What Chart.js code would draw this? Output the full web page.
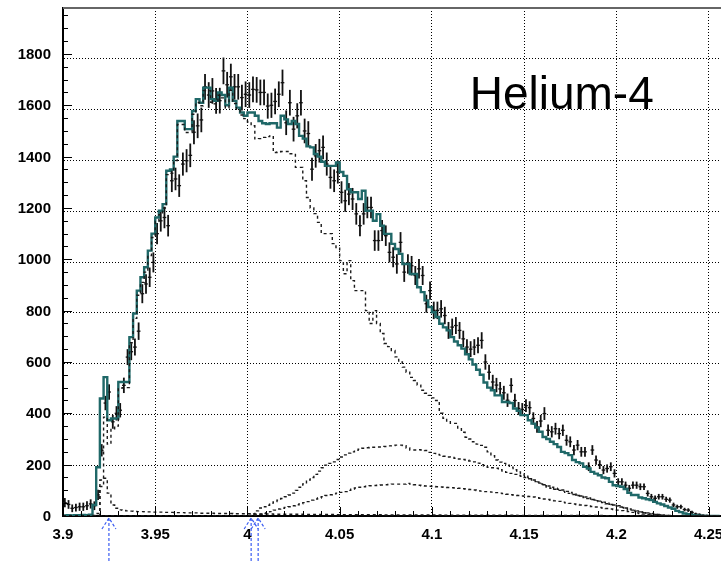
<!DOCTYPE html>
<html>
<head>
<meta charset="utf-8">
<script src="https://cdn.jsdelivr.net/npm/chart.js@4.4.1/dist/chart.umd.min.js"></script>
<style>
  html, body { margin: 0; padding: 0; background: #fff; }
  canvas { display: block; }
</style>
</head>
<body>
<canvas id="he4" width="721" height="563"></canvas>
<script>
// binning of all histograms
const BIN_LO = 3.9;
const BIN_W = 0.002;

// measured counts per bin and their errors
const dataCounts = [
  52, 45, 30, 33, 36, 36, 40, 47, 40, 82,
  256, 440, 483, 367, 400, 412, 509, 619, 640, 658,
  720, 866, 904, 930, 988, 1100, 1150, 1163, 1131, 1306,
  1313, 1287, 1371, 1384, 1405, 1495, 1520, 1543, 1672, 1640,
  1656, 1617, 1618, 1734, 1680, 1711, 1672, 1672, 1630, 1643,
  1640, 1662, 1660, 1650, 1650, 1597, 1600, 1615, 1643, 1688,
  1532, 1610, 1507, 1559, 1610, 1500, 1490, 1351, 1403, 1423,
  1436, 1371, 1319, 1306, 1340, 1261, 1228, 1254, 1235, 1177,
  1131, 1177, 1202, 1202, 1073, 1073, 1112, 1092, 1027, 1008,
  982, 1066, 950, 982, 975, 937, 963, 937, 827, 878,
  801, 801, 807, 781, 723, 736, 742, 723, 690, 658,
  650, 658, 665, 684, 600, 560, 522, 510, 495, 480,
  451, 509, 450, 419, 415, 430, 422, 380, 347, 370,
  399, 334, 328, 340, 321, 334, 295, 289, 257, 276,
  250, 250, 192, 257, 218, 200, 179, 185, 192, 166,
  133, 133, 120, 108, 120, 120, 114, 114, 88, 75,
  69, 75, 75, 65, 62, 43, 36, 36, 25, 23,
  14, 8, 6, 3, 2, 0, 0, 0
];
const dataErrors = [
  18, 17, 15, 15, 16, 16, 17, 18, 17, 20,
  24, 28, 30, 27, 28, 28, 30, 31, 33, 33,
  34, 37, 38, 38, 39, 41, 42, 42, 42, 44,
  44, 44, 45, 45, 46, 47, 48, 48, 50, 50,
  50, 50, 50, 52, 50, 51, 50, 50, 50, 50,
  50, 50, 50, 50, 50, 49, 49, 50, 50, 51,
  48, 50, 48, 49, 50, 48, 48, 45, 46, 46,
  46, 45, 44, 44, 45, 43, 43, 43, 43, 42,
  41, 42, 42, 42, 40, 40, 41, 40, 39, 39,
  38, 40, 38, 38, 38, 37, 38, 37, 35, 36,
  34, 34, 34, 34, 33, 33, 33, 33, 32, 31,
  31, 31, 31, 32, 30, 29, 28, 28, 27, 27,
  26, 28, 26, 25, 25, 25, 25, 24, 23, 24,
  25, 22, 22, 23, 22, 22, 21, 21, 20, 20,
  19, 19, 17, 19, 18, 17, 16, 16, 17, 16,
  14, 14, 14, 13, 14, 14, 13, 13, 12, 11,
  11, 11, 11, 10, 10, 9, 8, 8, 7, 7,
  6, 5, 4, 3, 3, 0, 0, 0
];

// simulated total
const mcSum = [
  3, 2, 3, 2, 3, 3, 4, 3, 5, 43,
  190, 458, 541, 373, 380, 380, 522, 522, 522, 697,
  789, 878, 930, 969, 1034, 1100, 1163, 1189, 1215, 1345,
  1350, 1400, 1539, 1539, 1507, 1507, 1578, 1624, 1610, 1669,
  1669, 1624, 1617, 1650, 1640, 1600, 1669, 1617, 1591, 1572,
  1559, 1572, 1572, 1559, 1539, 1530, 1527, 1530, 1530, 1513,
  1559, 1545, 1527, 1539, 1527, 1481, 1470, 1440, 1436, 1410,
  1400, 1380, 1364, 1364, 1364, 1377, 1340, 1325, 1273, 1261,
  1261, 1235, 1267, 1189, 1189, 1150, 1176, 1131, 1099, 1099,
  1060, 1040, 1021, 982, 982, 943, 943, 891, 872, 840,
  814, 794, 775, 749, 735, 723, 697, 680, 665, 652,
  630, 610, 590, 570, 550, 520, 500, 490, 470, 470,
  444, 444, 440, 419, 410, 393, 393, 373, 360, 345,
  328, 308, 300, 289, 280, 269, 250, 245, 237, 218,
  210, 205, 192, 185, 172, 165, 159, 150, 147, 133,
  120, 117, 114, 105, 90, 82, 82, 72, 69, 65,
  62, 55, 49, 45, 39, 33, 28, 20, 15, 10,
  7, 4, 2, 1, 0, 0, 0, 0
];

// simulated components
const mcNarrow = [
  0, 0, 0, 0, 0, 0, 0, 0, 0, 2,
  10, 115, 147, 89, 43, 30, 24, 22, 20, 19,
  18, 17, 17, 16, 16, 15, 15, 15, 14, 14,
  14, 13, 13, 13, 12, 12, 12, 12, 11, 11,
  11, 11, 10, 10, 10, 10, 10, 9, 9, 9,
  9, 9, 8, 8, 8, 8, 8, 8, 7, 7,
  7, 7, 7, 7, 7, 7, 6, 6, 6, 6,
  6, 6, 6, 6, 6, 5, 5, 5, 5, 5,
  5, 5, 5, 5, 5, 5, 5, 5, 4, 4,
  4, 4, 4, 4, 4, 4, 4, 4, 4, 4,
  4, 4, 4, 4, 3, 3, 3, 3, 3, 3,
  3, 3, 3, 3, 3, 3, 3, 3, 3, 3,
  3, 3, 3, 3, 2, 2, 2, 2, 2, 2,
  2, 2, 2, 2, 2, 2, 2, 2, 2, 2,
  2, 2, 2, 2, 2, 2, 2, 2, 1, 1,
  1, 1, 1, 1, 1, 1, 1, 1, 1, 1,
  1, 1, 1, 1, 1, 0, 0, 0, 0, 0,
  0, 0, 0, 0, 0, 0, 0, 0
];
const mcBulk = [
  0, 0, 0, 0, 0, 0, 0, 0, 0, 0,
  0, 140, 385, 280, 340, 350, 495, 500, 500, 675,
  770, 860, 910, 950, 1015, 1085, 1148, 1174, 1200, 1330,
  1335, 1385, 1525, 1525, 1494, 1494, 1565, 1611, 1598, 1657,
  1657, 1612, 1606, 1639, 1629, 1589, 1658, 1607, 1581, 1562,
  1548, 1535, 1520, 1469, 1470, 1475, 1478, 1481, 1416, 1418,
  1420, 1420, 1411, 1411, 1358, 1358, 1306, 1241, 1200, 1178,
  1144, 1100, 1100, 1100, 1061, 1046, 995, 944, 995, 917,
  878, 878, 878, 800, 750, 800, 750, 711, 672, 660,
  645, 620, 600, 580, 560, 540, 528, 510, 490, 478,
  470, 460, 450, 400, 381, 370, 361, 361, 340, 326,
  307, 300, 289, 280, 275, 268, 250, 235, 218, 210,
  205, 198, 190, 180, 172, 165, 158, 150, 140, 134,
  128, 122, 117, 112, 108, 104, 101, 96, 92, 87,
  82, 78, 74, 70, 66, 62, 58, 54, 50, 46,
  43, 40, 33, 28, 23, 23, 20, 17, 14, 12,
  10, 8, 6, 4, 3, 2, 1, 0, 0, 0,
  0, 0, 0, 0, 0, 0, 0, 0
];
const mcBroad1 = [
  0, 0, 0, 0, 0, 0, 0, 0, 0, 0,
  0, 0, 0, 0, 0, 0, 0, 0, 0, 0,
  0, 0, 0, 0, 0, 0, 0, 0, 0, 0,
  0, 0, 0, 0, 0, 0, 0, 0, 0, 0,
  0, 0, 0, 0, 0, 0, 0, 0, 0, 0,
  0, 2, 8, 20, 31, 36, 42, 50, 56, 62,
  68, 75, 82, 89, 100, 112, 125, 140, 150, 162,
  175, 188, 198, 205, 211, 220, 230, 238, 245, 250,
  256, 260, 264, 266, 268, 268, 269, 269, 271, 273,
  274, 276, 276, 274, 265, 257, 257, 258, 257, 255,
  248, 244, 240, 237, 233, 230, 228, 225, 222, 220,
  218, 214, 211, 206, 200, 195, 190, 188, 186, 180,
  175, 170, 166, 162, 158, 155, 150, 145, 140, 133,
  125, 118, 112, 108, 104, 100, 96, 92, 88, 84,
  80, 76, 72, 68, 64, 60, 56, 52, 48, 45,
  42, 39, 35, 31, 27, 23, 19, 16, 13, 10,
  8, 6, 4, 3, 2, 1, 0, 0, 0, 0,
  0, 0, 0, 0, 0, 0, 0, 0
];
const mcBroad2 = [
  0, 0, 0, 0, 0, 0, 0, 0, 0, 0,
  0, 0, 0, 0, 0, 0, 0, 0, 0, 0,
  0, 0, 0, 0, 0, 0, 0, 0, 0, 0,
  0, 0, 0, 0, 0, 0, 0, 0, 0, 0,
  0, 0, 0, 0, 0, 0, 0, 0, 0, 0,
  0, 0, 2, 4, 7, 10, 13, 17, 23, 27,
  30, 33, 36, 40, 44, 48, 52, 56, 62, 66,
  70, 75, 80, 83, 86, 89, 92, 95, 100, 104,
  109, 112, 114, 116, 118, 119, 120, 121, 122, 123,
  124, 124, 124, 124, 127, 124, 122, 120, 118, 117,
  116, 115, 114, 113, 112, 111, 110, 109, 108, 106,
  104, 103, 101, 99, 97, 95, 94, 93, 91, 89,
  87, 85, 83, 81, 80, 78, 77, 76, 74, 71,
  69, 66, 64, 61, 59, 57, 54, 51, 49, 47,
  45, 43, 41, 39, 37, 35, 33, 31, 29, 27,
  25, 23, 21, 19, 17, 14, 12, 10, 8, 6,
  5, 4, 3, 2, 1, 0, 0, 0, 0, 0,
  0, 0, 0, 0, 0, 0, 0, 0
];

// axis labels and marker positions
const xTickValues = [3.9, 3.95, 4.0, 4.05, 4.1, 4.15, 4.2, 4.25];
const xTickLabels = ['3.9', '3.95', '4', '4.05', '4.1', '4.15', '4.2', '4.25'];
const yTickValues = [0, 200, 400, 600, 800, 1000, 1200, 1400, 1600, 1800];
const arrowPositions = [3.9249, 4.0020, 4.0058];

// histogram -> points for a stepped line (left edges + closing edge)
function toSteps(counts) {
  const pts = counts.map((v, i) => ({ x: BIN_LO + i * BIN_W, y: v }));
  pts.push({ x: BIN_LO + counts.length * BIN_W, y: counts[counts.length - 1] });
  return pts;
}

function stepLine(counts, color, width, dash) {
  return {
    data: toSteps(counts),
    stepped: 'after',
    borderColor: color,
    borderWidth: width,
    borderDash: dash || [],
    pointRadius: 0,
    fill: false,
    tension: 0
  };
}

const histExtras = {
  id: 'histExtras',
  beforeDatasetsDraw(chart) {
    // data points with error bars, under the simulation curves
    const { ctx, chartArea, scales: { x, y } } = chart;
    ctx.save();
    ctx.beginPath();
    ctx.rect(chartArea.left, chartArea.top, chartArea.right - chartArea.left, chartArea.bottom - chartArea.top);
    ctx.clip();
    ctx.strokeStyle = '#111';
    dataCounts.forEach((v, i) => {
      if (v <= 0) return;
      const lo = BIN_LO + i * BIN_W;
      const xl = x.getPixelForValue(lo);
      const xr = x.getPixelForValue(lo + BIN_W);
      const xc = x.getPixelForValue(lo + BIN_W / 2);
      const yc = y.getPixelForValue(v);
      ctx.lineWidth = 1.3;
      ctx.beginPath();
      ctx.moveTo(xl, yc);
      ctx.lineTo(xr, yc);
      ctx.stroke();
      ctx.lineWidth = 1.8;
      ctx.beginPath();
      ctx.moveTo(xc, y.getPixelForValue(v - dataErrors[i]));
      ctx.lineTo(xc, y.getPixelForValue(v + dataErrors[i]));
      ctx.stroke();
    });
    ctx.restore();
  },
  afterDraw(chart) {
    const { ctx, chartArea, scales: { x, y } } = chart;
    ctx.save();

    // top frame
    ctx.strokeStyle = '#666';
    ctx.lineWidth = 2;
    ctx.beginPath();
    ctx.moveTo(chartArea.left, chartArea.top);
    ctx.lineTo(chart.width, chartArea.top);
    ctx.stroke();

    // inward ticks
    ctx.strokeStyle = '#000';
    ctx.lineWidth = 1;
    for (let v = 0; v <= 1975; v += 50) {
      const py = Math.round(y.getPixelForValue(v)) + 0.5;
      const len = v % 200 === 0 ? 9 : 5;
      ctx.beginPath();
      ctx.moveTo(chartArea.left, py);
      ctx.lineTo(chartArea.left + len, py);
      ctx.stroke();
    }
    for (let i = 0; i <= 35; i++) {
      const px = Math.round(x.getPixelForValue(3.9 + i * 0.01)) + 0.5;
      const len = i % 5 === 0 ? 9 : 5;
      ctx.beginPath();
      ctx.moveTo(px, chartArea.bottom);
      ctx.lineTo(px, chartArea.bottom - len);
      ctx.stroke();
    }

    // tick labels
    ctx.fillStyle = '#000';
    ctx.font = 'bold 15px "Liberation Sans", Arial, sans-serif';
    ctx.textAlign = 'right';
    ctx.textBaseline = 'middle';
    yTickValues.forEach(v => ctx.fillText(String(v), chartArea.left - 12, y.getPixelForValue(v) + 1));
    ctx.textAlign = 'center';
    ctx.textBaseline = 'top';
    xTickValues.forEach((v, i) => ctx.fillText(xTickLabels[i], x.getPixelForValue(v), chartArea.bottom + 11));

    // arrows under the axis
    ctx.strokeStyle = '#3a5cf2';
    ctx.lineWidth = 1.2;
    ctx.setLineDash([3, 2]);
    arrowPositions.forEach(v => {
      const px = x.getPixelForValue(v);
      const top = chartArea.bottom + 2;
      ctx.beginPath();
      ctx.moveTo(px, top);
      ctx.lineTo(px, chart.height);
      ctx.moveTo(px - 7, top + 11);
      ctx.lineTo(px, top);
      ctx.lineTo(px + 7, top + 11);
      ctx.stroke();
    });
    ctx.setLineDash([]);

    // label
    ctx.font = '46px "Liberation Sans", Arial, sans-serif';
    ctx.textAlign = 'left';
    ctx.textBaseline = 'alphabetic';
    ctx.fillText('Helium-4', x.getPixelForValue(4.1205), y.getPixelForValue(1585));
    ctx.restore();
  }
};

const dotted = '#000';

new Chart(document.getElementById('he4'), {
  type: 'line',
  data: {
    datasets: [
      stepLine(mcBroad2, '#1a1a1a', 1.4, [3, 3]),
      stepLine(mcBroad1, '#1a1a1a', 1.4, [3, 3]),
      stepLine(mcBulk, '#1a1a1a', 1.4, [3, 3]),
      stepLine(mcNarrow, '#1a1a1a', 1.4, [3, 3]),
      stepLine(mcSum, '#1f6868', 2.4),
      stepLine(mcSum, '#000', 1)
    ]
  },
  options: {
    responsive: false,
    animation: false,
    devicePixelRatio: 1,
    layout: { padding: { top: 8, right: 1, left: 0, bottom: 0 } },
    plugins: {
      legend: { display: false },
      tooltip: { enabled: false }
    },
    scales: {
      x: {
        type: 'linear',
        min: 3.9,
        max: 4.2562,
        afterFit: (s) => { s.height = 47; },
        ticks: { display: false, stepSize: 0.05, includeBounds: false },
        grid: { color: dotted, lineWidth: 1, drawTicks: false },
        border: { display: true, color: '#000', width: 2, dash: [1, 2] }
      },
      y: {
        min: 0,
        max: 1979,
        afterFit: (s) => { s.width = 63; },
        ticks: { display: false, stepSize: 200, includeBounds: false },
        grid: { color: dotted, lineWidth: 1, drawTicks: false },
        border: { display: true, color: '#000', width: 2, dash: [1, 2] }
      }
    }
  },
  plugins: [histExtras]
});
</script>
</body>
</html>
